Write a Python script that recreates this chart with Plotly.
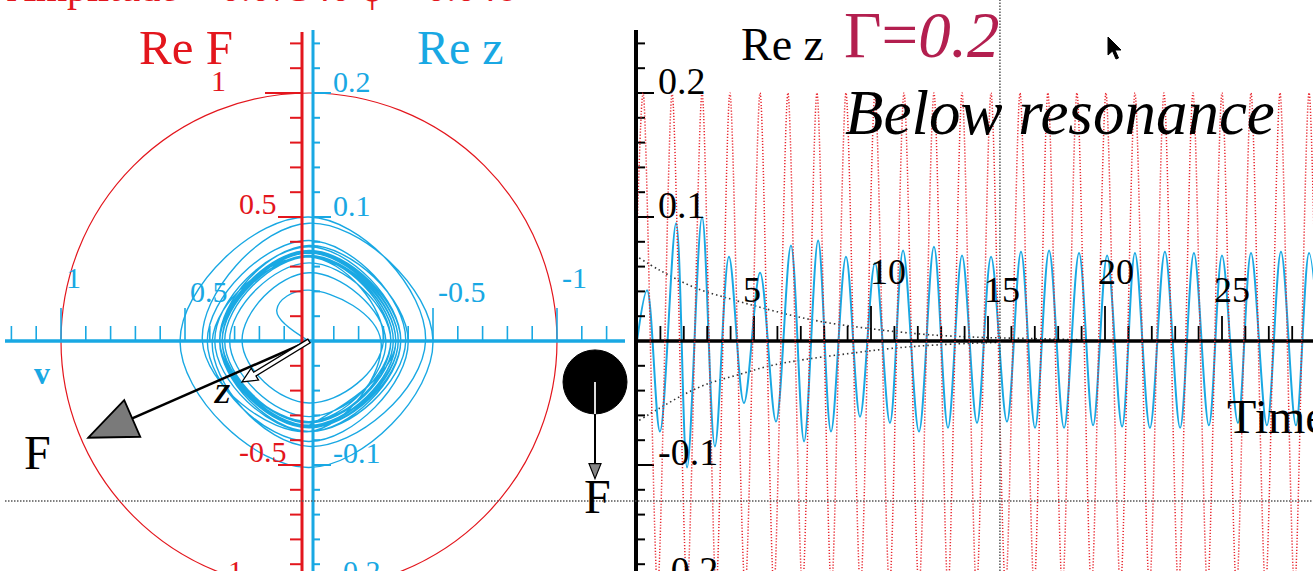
import math
import plotly.graph_objects as go

# ---------------- values ----------------
# extrema of Re z(t) (time, value), starting from rest at t = 0
t_extrema = [0.00, 0.43, 0.98, 1.67, 2.14, 2.78, 3.33, 3.93, 4.57, 5.26, 5.94, 6.58,
             7.14, 7.74, 8.29, 8.93, 9.53, 10.17, 10.81, 11.37, 12.05, 12.69, 13.29,
             13.89, 14.53, 15.13, 15.81, 16.41, 17.01, 17.61, 18.25, 18.89, 19.49,
             20.09, 20.73, 21.28, 21.92, 22.56, 23.21, 23.80, 24.44, 25.00, 25.68,
             26.24, 26.92, 27.52, 28.16, 28.72, 29.36]
z_extrema = [0.000, 0.041, -0.073, 0.095, -0.102, 0.100, -0.085, 0.068, -0.050, 0.055,
             -0.065, 0.077, -0.081, 0.081, -0.073, 0.068, -0.061, 0.063, -0.066, 0.073,
             -0.073, 0.076, -0.070, 0.069, -0.066, 0.068, -0.065, 0.072, -0.070, 0.073,
             -0.070, 0.071, -0.068, 0.069, -0.069, 0.071, -0.070, 0.072, -0.070, 0.071,
             -0.068, 0.069, -0.066, 0.071, -0.068, 0.072, -0.068, 0.071, -0.068]

# velocity where the phase trajectory crosses Re z = 0 (between successive extrema)
v_crossings = [-0.29, 0.43, -0.50, 0.52, -0.47, 0.39, -0.30, 0.27, -0.31, 0.36,
               -0.40, 0.41, -0.39, 0.36, -0.33, 0.32, -0.33, 0.35, -0.37, 0.38,
               -0.37, 0.35, -0.34, 0.34, -0.34, 0.35, -0.36, 0.36, -0.36, 0.36,
               -0.35, 0.35, -0.35, 0.36, -0.36, 0.36, -0.36, 0.36, -0.35, 0.35,
               -0.34, 0.35, -0.35, 0.36, -0.36, 0.35, -0.35]
launch_v = 0.13     # first swing out of the origin
launch_z = 0.025

# driving force Re F(t): turning points
force_t = [-0.36, 0.26, 0.88, 1.50, 2.14, 2.78, 3.38, 3.97, 4.62, 5.26, 5.85, 6.45,
           7.07, 7.69, 8.31, 8.93, 9.55, 10.17, 10.79, 11.41, 12.05, 12.69, 13.29,
           13.89, 14.51, 15.13, 15.75, 16.37, 16.97, 17.56, 18.18, 18.80, 19.42,
           20.04, 20.66, 21.28, 21.90, 22.52, 23.14, 23.76, 24.38, 25.00, 25.62,
           26.24, 26.86, 27.48, 28.10, 28.72, 29.34, 29.96]
force_val = [-1, 1, -1, 1, -1, 1, -1, 1, -1, 1, -1, 1, -1, 1, -1, 1, -1, 1, -1, 1,
             -1, 1, -1, 1, -1, 1, -1, 1, -1, 1, -1, 1, -1, 1, -1, 1, -1, 1, -1, 1,
             -1, 1, -1, 1, -1, 1, -1, 1, -1, 1]

# decaying transient envelopes
env_upper_t = [0.09, 0.98, 2.48, 3.97, 5.30, 6.75, 8.08, 9.53, 10.85, 12.52, 14.57, 16.79, 18.93]
env_upper_z = [0.067, 0.057, 0.043, 0.034, 0.027, 0.020, 0.015, 0.011, 0.008, 0.005, 0.003, 0.002, 0.001]
env_lower_t = [0.09, 0.98, 1.92, 2.95, 4.36, 5.68, 7.14, 9.10, 10.85, 12.95, 15.51]
env_lower_z = [-0.064, -0.054, -0.044, -0.035, -0.027, -0.020, -0.015, -0.010, -0.006, -0.003, -0.001]

phasor_F = (0.89, -0.39)    # (Im F, Re F) at the cursor time
phasor_z = (0.27, -0.033)   # (v, Re z) at the cursor time
cursor_t = 15.51
gamma_text = "0.2"

z_tick_values = [0.2, 0.1, -0.1, -0.2]
z_tick_labels = ["0.2", "0.1", "-0.1", "-0.2"]
F_tick_values = [1, 0.5, -0.5, -1]
F_tick_labels = ["1", "0.5", "-0.5", "-1"]
v_tick_values = [1, 0.5, -0.5, -1]
v_tick_labels = ["1", "0.5", "-0.5", "-1"]
time_tick_values = [5, 10, 15, 20, 25]
time_tick_labels = ["5", "10", "15", "20", "25"]

# ---------------- geometry & style ----------------
W, H = 1313, 571
OX, OY = 309, 341          # pixel origin of the phase plane
PX_V = 248                 # px per unit of v and of F
PX_Z = 1240                # px per unit of Re z
T0_PX = 637                # pixel of t = 0
PX_T = 23.4                # px per time unit
Z_PER_F = PX_V / PX_Z

BLUE = "#19A8E3"
RED = "#E3161D"
CRIMSON = "#B31F4F"
SERIF = "Liberation Serif, Times New Roman, serif"


def px_v(px):
    return (OX - px) / PX_V


def py_z(py):
    return (OY - py) / PX_Z


def px_t(px):
    return (px - T0_PX) / PX_T


x_range = [OX / PX_V, (OX - T0_PX) / PX_V]
y_range = [(OY - H) / PX_Z, OY / PX_Z]
yF_range = [y_range[0] / Z_PER_F, y_range[1] / Z_PER_F]
x2_range = [0, (W - T0_PX) / PX_T]

fig = go.Figure()


def add_lines(xs, ys, color, width, xa="x", ya="y", dash=None, shape="linear", smoothing=1.0):
    fig.add_trace(go.Scatter(
        x=xs, y=ys, mode="lines", xaxis=xa, yaxis=ya,
        line=dict(color=color, width=width, dash=dash, shape=shape, smoothing=smoothing),
        hoverinfo="skip", showlegend=False))


def segments(pairs):
    xs, ys = [], []
    for (a, b), (c, d) in pairs:
        xs += [a, c, None]
        ys += [b, d, None]
    return xs, ys


# ---- time panel curves ----
add_lines(force_t, force_val, "#E8262E", 1.5, xa="x2", ya="y3", dash="1.2px,1.8px",
          shape="spline", smoothing=0.8)
add_lines(env_upper_t, env_upper_z, "#333333", 1.6, xa="x2", dash="1.5px,3px", shape="spline")
add_lines(env_lower_t, env_lower_z, "#333333", 1.6, xa="x2", dash="1.5px,3px", shape="spline")
add_lines(t_extrema, z_extrema, BLUE, 2, xa="x2", shape="spline", smoothing=1.0)

# ---- phase-plane trajectory (v, Re z) ----
phase_v = [0.0, launch_v, 0.0]
phase_z = [0.0, launch_z, z_extrema[1]]
for k, vc in enumerate(v_crossings):
    phase_v += [vc, 0.0]
    phase_z += [0.0, z_extrema[k + 2]]
add_lines(phase_v, phase_z, BLUE, 1.4, shape="spline", smoothing=1.3)

# ---- left panel axes ----
V_BLUE = px_v(313)
V_RED = px_v(302)

# red Re F axis with ticks pointing left
add_lines([V_RED, V_RED], [(OY - 32) / PX_V, yF_range[0]], RED, 3, ya="y3")
pairs = []
for k in range(-9, 13):
    if k == 0:
        continue
    ln = 37 if k % 10 == 0 else (24 if k % 5 == 0 else 12)
    pairs.append(((V_RED, k / 10), (V_RED + ln / PX_V, k / 10)))
xs, ys = segments(pairs)
add_lines(xs, ys, RED, 2, ya="y3")

# blue Re z axis with ticks pointing right
add_lines([V_BLUE, V_BLUE], [py_z(30), y_range[0]], BLUE, 3)
pairs = []
for k in range(-9, 13):
    if k == 0:
        continue
    ln = 18 if k % 5 == 0 else 7
    pairs.append(((V_BLUE, k * 0.02), (V_BLUE - ln / PX_V, k * 0.02)))
xs, ys = segments(pairs)
add_lines(xs, ys, BLUE, 2)

# blue v axis with ticks pointing up
add_lines([px_v(5), px_v(625)], [0, 0], BLUE, 3.5)
pairs = []
for k in range(-12, 13):
    if k == 0:
        continue
    ln = 33 if k % 5 == 0 else 15
    pairs.append(((k / 10, 0), (k / 10, ln / PX_Z)))
xs, ys = segments(pairs)
add_lines(xs, ys, BLUE, 1.6)

# ---- time panel axes ----
add_lines([0, x2_range[1]], [0, 0], "black", 3.5, xa="x2")
pairs = []
for k in range(1, 29):
    ln = 35 if k % 10 == 0 else (25 if k % 5 == 0 else 15)
    pairs.append(((k, 0), (k, ln / PX_Z)))
xs, ys = segments(pairs)
add_lines(xs, ys, "black", 1.8, xa="x2")
pairs = []
for k in range(-9, 13):
    if k == 0:
        continue
    ln = 17 if k % 5 == 0 else 8
    pairs.append(((0, k * 0.02), (ln / PX_T, k * 0.02)))
xs, ys = segments(pairs)
add_lines(xs, ys, "black", 2, xa="x2")

# ---------------- shapes ----------------
shapes = []
# |F| = 1 circle
shapes.append(dict(type="circle", xref="x", yref="y3", x0=-1, x1=1, y0=-1, y1=1,
                   line=dict(color=RED, width=1.2), layer="below"))
# right panel vertical axis
shapes.append(dict(type="line", xref="paper", yref="y", x0=(T0_PX - 1) / W, x1=(T0_PX - 1) / W,
                   y0=py_z(30), y1=y_range[0], line=dict(color="black", width=4)))
# cursor cross-hair
shapes.append(dict(type="line", xref="x2", yref="paper", x0=cursor_t, x1=cursor_t, y0=0, y1=1,
                   line=dict(color="#555555", width=1.5, dash="1.5px,1.5px")))
shapes.append(dict(type="line", xref="paper", yref="y", x0=5 / W, x1=1, y0=py_z(501), y1=py_z(501),
                   line=dict(color="#555555", width=1.5, dash="1.5px,1.5px")))


def path_of(points):
    return "M " + " L ".join(f"{x:.5f},{y:.5f}" for x, y in points) + " Z"


# F phasor with a shaded head (isotropic v/F plane)
fx, fy = phasor_F
flen = math.hypot(fx, fy)
ux, uy = fx / flen, fy / flen
nx, ny = -uy, ux
head_l, head_w = 48 / PX_V, 20 / PX_V
bx, by = fx - ux * head_l, fy - uy * head_l
shapes.append(dict(type="line", xref="x", yref="y3", x0=0, y0=0, x1=bx, y1=by,
                   line=dict(color="black", width=2.5)))
shapes.append(dict(type="path", xref="x", yref="y3",
                   path=path_of([(fx, fy), (bx + nx * head_w, by + ny * head_w),
                                 (bx - nx * head_w, by - ny * head_w)]),
                   fillcolor="#7a7a7a", line=dict(color="black", width=1.8)))

# z phasor, hollow arrow
zx, zy = phasor_z[0], phasor_z[1] / Z_PER_F
zlen = math.hypot(zx, zy)
ux, uy = zx / zlen, zy / zlen
nx, ny = -uy, ux
sw, hl, hw = 2.2 / PX_V, 15 / PX_V, 7 / PX_V
bx, by = zx - ux * hl, zy - uy * hl
shapes.append(dict(type="path", xref="x", yref="y3",
                   path=path_of([(nx * sw, ny * sw), (bx + nx * sw, by + ny * sw),
                                 (bx + nx * hw, by + ny * hw), (zx, zy),
                                 (bx - nx * hw, by - ny * hw), (bx - nx * sw, by - ny * sw),
                                 (-nx * sw, -ny * sw)]),
                   fillcolor="white", line=dict(color="black", width=1.3)))

# mass on the spring, at height Re z, pushed by Re F
BALL_V = px_v(595)
BALL_R = 32 / PX_V
ball_y = phasor_z[1] / Z_PER_F
shapes.append(dict(type="circle", xref="x", yref="y3", x0=BALL_V - BALL_R, x1=BALL_V + BALL_R,
                   y0=ball_y - BALL_R, y1=ball_y + BALL_R, fillcolor="black",
                   line=dict(color="black", width=1)))
tip_y = ball_y + phasor_F[1]
sh_l, sh_w = 15 / PX_V, 6 / PX_V
shapes.append(dict(type="line", xref="x", yref="y3", x0=BALL_V, x1=BALL_V,
                   y0=ball_y - BALL_R, y1=tip_y + sh_l, line=dict(color="black", width=2)))
shapes.append(dict(type="line", xref="x", yref="y3", x0=BALL_V, x1=BALL_V,
                   y0=ball_y, y1=ball_y - BALL_R, line=dict(color="#dddddd", width=2)))
shapes.append(dict(type="path", xref="x", yref="y3",
                   path=path_of([(BALL_V, tip_y), (BALL_V - sh_w, tip_y + sh_l),
                                 (BALL_V + sh_w, tip_y + sh_l)]),
                   fillcolor="#858585", line=dict(color="black", width=1.2)))

# mouse pointer
tipx, tipy = 1108, 37
ptr = [(0, 0), (0, 18), (4.5, 14), (8, 22), (10.5, 21), (7, 13), (13, 13)]
shapes.append(dict(type="path", xref="paper", yref="paper",
                   path=path_of([((tipx + a) / W, 1 - (tipy + b) / H) for a, b in ptr]),
                   fillcolor="black", line=dict(color="black", width=1)))

# ---------------- text ----------------
ann = []


def label(x, y, text, size, color, xref="x", yref="y", xanchor="center", yanchor="middle"):
    ann.append(dict(x=x, y=y, xref=xref, yref=yref, text=text, showarrow=False,
                    xanchor=xanchor, yanchor=yanchor,
                    font=dict(family=SERIF, size=size, color=color)))


label(5 / W, 1 + 12.5 / H, "Amplitude = 0.07340 φ = 0.046", 40, RED,
      xref="paper", yref="paper", xanchor="left")
label(px_v(186), py_z(47), "Re F", 49, RED)
label(px_v(460), py_z(47), "Re z", 48, BLUE)

red_label_px = [218, 258, 263, 230]
red_label_rise = [13, 14, 14, 19]
for val, txt, xp, rise in zip(F_tick_values, F_tick_labels, red_label_px, red_label_rise):
    label(px_v(xp), val + rise / PX_V, txt, 30, RED, yref="y3")

z_label_rise = [12, 12, 13, 19]
for val, txt, rise in zip(z_tick_values, z_tick_labels, z_label_rise):
    label(px_v(331), val + rise / PX_Z, txt, 30, BLUE, xanchor="left")

v_label_rise = [64, 50, 50, 64]
for val, txt, rise in zip(v_tick_values, v_tick_labels, v_label_rise):
    label(val - 3 / PX_V, rise / PX_Z, txt, 30, BLUE, xanchor="left")

label(px_v(42), py_z(373), "<b>v</b>", 32, BLUE)
label(px_v(37), py_z(452), "F", 48, "black")
label(px_v(597), py_z(496), "F", 48, "black")
label(px_v(222), py_z(394), "<b><i>Z</i></b>", 27, "black")

# time panel text
label(px_t(782), py_z(44), "Re z", 46, "black", xref="x2")
label(px_t(842), py_z(35), "Γ=<i>" + gamma_text + "</i>", 65, CRIMSON, xref="x2", xanchor="left")
label(px_t(843), py_z(113), "<i>Below resonance</i>", 63, "black", xref="x2", xanchor="left")
label(px_t(1225), py_z(416), "Time", 48, "black", xref="x2", xanchor="left")

for val, txt, rise in zip(z_tick_values, z_tick_labels, z_label_rise):
    label(px_t(656), val + rise / PX_Z, txt, 38, "black", xref="x2", xanchor="left")

time_label_dx = [-2, 17, 14, 11, 10]
time_label_rise = [51, 69, 51, 69, 51]
for val, txt, dx, rise in zip(time_tick_values, time_tick_labels, time_label_dx, time_label_rise):
    label(val + dx / PX_T, rise / PX_Z, txt, 36, "black", xref="x2")

fig.update_layout(
    width=W, height=H, margin=dict(l=0, r=0, t=0, b=0),
    paper_bgcolor="white", plot_bgcolor="white", showlegend=False,
    xaxis=dict(domain=[0, T0_PX / W], range=x_range, visible=False, fixedrange=True),
    yaxis=dict(domain=[0, 1], range=y_range, visible=False, fixedrange=True),
    xaxis2=dict(domain=[T0_PX / W, 1], range=x2_range, visible=False, anchor="y", fixedrange=True),
    yaxis3=dict(range=yF_range, overlaying="y", visible=False, fixedrange=True),
    shapes=shapes, annotations=ann,
)

fig.write_html("out.html")
